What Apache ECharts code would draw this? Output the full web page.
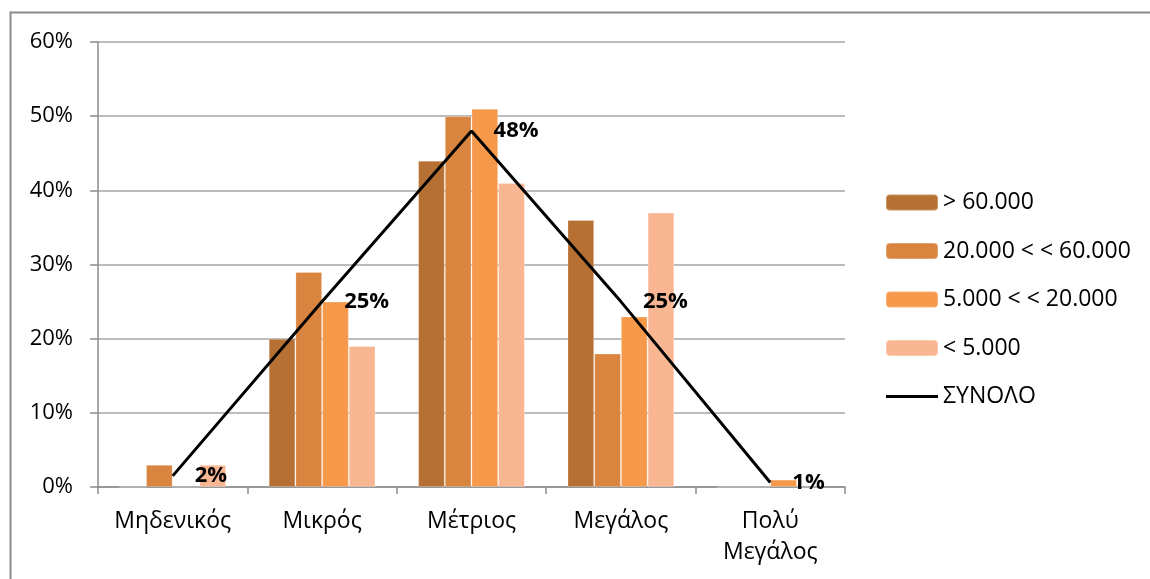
<!DOCTYPE html>
<html>
<head>
<meta charset="utf-8">
<script src="https://cdn.jsdelivr.net/npm/echarts@6/dist/echarts.min.js"></script>
<style>
html,body{margin:0;padding:0;background:#fff;}
#c{width:1150px;height:579px;}
</style>
</head>
<body>
<div id="c"></div>
<script>
const categories = ['Μηδενικός', 'Μικρός', 'Μέτριος', 'Μεγάλος', 'Πολύ\nΜεγάλος'];
const seriesNames = ['> 60.000', '20.000 < < 60.000', '5.000 < < 20.000', '< 5.000', 'ΣΥΝΟΛΟ'];
const over60k = [0, 20, 44, 36, 0];
const from20kTo60k = [3, 29, 50, 18, 0];
const from5kTo20k = [0, 25, 51, 23, 1];
const under5k = [3, 19, 41, 37, 0];
const total = [1.5, 25, 48, 25, 0.6];
const yTicks = [0, 10, 20, 30, 40, 50, 60];

const FONT = 'Open Sans';
const FS = 23;
const colors = ['#B77033', '#D9843F', '#F6994A', '#F9B692'];
const chart = echarts.init(document.getElementById('c'), null, {renderer: 'canvas'});

function bar(name, data, color) {
  return {
    name: name, type: 'bar', data: data,
    itemStyle: {color: color, borderColor: 'rgba(255,255,255,0.25)', borderWidth: 1},
    barGap: '0%', barCategoryGap: '28.5%',
    emphasis: {disabled: true}
  };
}

chart.setOption({
  animation: false,
  backgroundColor: '#fff',
  textStyle: {fontFamily: FONT},
  graphic: [{
    type: 'rect', shape: {x: 10.5, y: 12.5, width: 1300, height: 700},
    style: {fill: null, stroke: '#8c8c8c', lineWidth: 2}, silent: true, z: -10
  }],
  grid: {left: 98, right: 305, top: 42, bottom: 92, containLabel: false},
  legend: {
    orient: 'vertical', left: 885, top: 191, padding: 0,
    itemWidth: 52, itemHeight: 16, itemGap: 25.5,
    textStyle: {fontFamily: FONT, fontSize: FS, color: '#000'},
    data: seriesNames.map((n, i) => i === 4
      ? {name: n, icon: 'path://M0,0 H52 V3 H0 Z', itemStyle: {color: '#000'}}
      : {name: n})
  },
  xAxis: {
    type: 'category', data: categories,
    axisLine: {lineStyle: {color: '#8c8c8c', width: 1.5}},
    axisTick: {show: true, length: 7, lineStyle: {color: '#8c8c8c', width: 1.5}},
    axisLabel: {fontFamily: FONT, fontSize: FS, color: '#000', margin: 19, lineHeight: 31, interval: 0},
    splitLine: {show: false}
  },
  yAxis: {
    type: 'value', min: yTicks[0], max: yTicks[yTicks.length - 1], interval: 10,
    axisLine: {show: true, lineStyle: {color: '#8c8c8c', width: 1.5}},
    axisTick: {show: true, length: 8, lineStyle: {color: '#8c8c8c', width: 1.5}},
    axisLabel: {fontFamily: FONT, fontSize: 22, color: '#000', margin: 25, formatter: '{value}%'},
    splitLine: {show: true, lineStyle: {color: '#a6a6a6', width: 1.5}}
  },
  series: [
    bar(seriesNames[0], over60k, colors[0]),
    bar(seriesNames[1], from20kTo60k, colors[1]),
    bar(seriesNames[2], from5kTo20k, colors[2]),
    bar(seriesNames[3], under5k, colors[3]),
    {
      name: seriesNames[4], type: 'line', data: total,
      symbol: 'circle', symbolSize: 0.1, showSymbol: true, z: 10,
      lineStyle: {color: '#000', width: 3},
      itemStyle: {color: '#000'},
      label: {
        show: true, position: 'right', distance: 22,
        fontFamily: FONT, fontSize: 22, fontWeight: 'bold', color: '#000',
        formatter: p => Math.round(p.value) + '%'
      },
      emphasis: {disabled: true}
    }
  ]
});
</script>
</body>
</html>
